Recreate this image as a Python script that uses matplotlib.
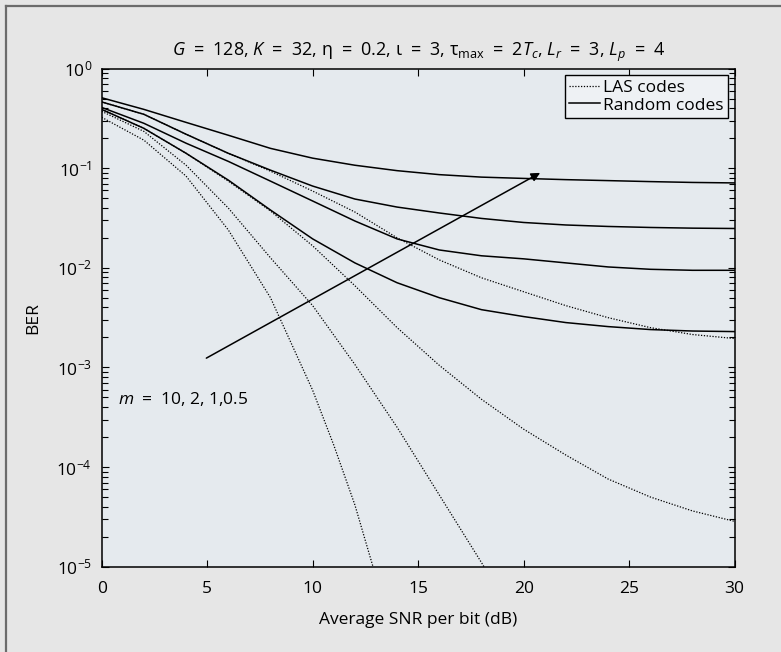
import matplotlib
matplotlib.use("Agg")
import matplotlib.pyplot as plt
from matplotlib.lines import Line2D

# =====================================================
# DATA
# =====================================================

snr = [0, 2, 4, 6, 8, 10, 12, 14, 16, 18, 20, 22, 24, 26, 28, 30]

# random codes, m = 0.5, 1, 2, 10
rand_m05 = [0.509, 0.389, 0.288, 0.214, 0.158, 0.126, 0.107, 0.0944,
            0.0861, 0.0813, 0.0789, 0.0767, 0.0750, 0.0733, 0.0719, 0.0711]
rand_m1 = [0.462, 0.347, 0.219, 0.141, 0.0955, 0.0661, 0.0490, 0.0407,
           0.0355, 0.0313, 0.0285, 0.0269, 0.0260, 0.0254, 0.0250, 0.0248]
rand_m2 = [0.407, 0.282, 0.178, 0.117, 0.0741, 0.0468, 0.0295, 0.0195,
           0.0151, 0.0132, 0.0123, 0.0112, 0.0102, 0.00966, 0.00944, 0.00944]
rand_m10 = [0.389, 0.251, 0.141, 0.0759, 0.0380, 0.0195, 0.0112, 0.00708,
            0.00501, 0.00380, 0.00324, 0.00282, 0.00257, 0.00240, 0.00232, 0.00229]

# LAS codes
las_m05 = [0.462, 0.347, 0.219, 0.141, 0.0933, 0.0589, 0.0363, 0.0200,
           0.0120, 0.00794, 0.00575, 0.00417, 0.00316, 0.00251, 0.00214, 0.00195]
las_m1 = [0.389, 0.251, 0.141, 0.0741, 0.0372, 0.0166, 0.00661, 0.00251,
          0.00105, 4.79e-4, 2.40e-4, 1.32e-4, 7.59e-5, 5.01e-5, 3.63e-5, 2.85e-5]

snr_m2 = [0, 2, 4, 6, 8, 10, 12, 14, 16, 18, 18.4]
las_m2 = [0.372, 0.234, 0.107, 0.0398, 0.0126, 4.17e-3, 1.07e-3, 2.51e-4,
          5.25e-5, 1.10e-5, 8.0e-6]

snr_m10 = [0, 2, 4, 6, 8, 10, 11, 12, 13]
las_m10 = [0.324, 0.191, 0.0832, 0.0240, 5.01e-3, 5.89e-4, 1.66e-4,
           4.17e-5, 7.9e-6]

arrow_tail = (4.96, 1.24e-3)
arrow_head = (20.78, 0.0897)

sp = "\u2002"  # wide space around "=" like the original typesetting
title = (f"$G${sp}={sp}128, $K${sp}={sp}32, η{sp}={sp}0.2, ι{sp}={sp}3, "
         f"τ$_{{\\mathrm{{max}}}}${sp}={sp}2$T_c$, $L_r${sp}={sp}3, $L_p${sp}={sp}4")

# =====================================================
# STYLE
# =====================================================

plt.rcParams["font.family"] = ["Open Sans", "DejaVu Sans"]
plt.rcParams["mathtext.fontset"] = "custom"
plt.rcParams["mathtext.rm"] = "Open Sans"
plt.rcParams["mathtext.it"] = "Open Sans:italic"
plt.rcParams["font.size"] = 12.5

dotted = (0, (1, 1.3))

fig = plt.figure(figsize=(7.81, 6.52), dpi=100, facecolor="#e6e6e6")
ax = fig.add_axes([0.1302, 0.1308, 0.8105, 0.7641])
ax.set_facecolor("#e5eaee")

# outer frame (top and left only)
fig.add_artist(Line2D([0.0075, 0.0075], [0, 0.9915], transform=fig.transFigure,
                      color="#6c6c6c", lw=1.6))
fig.add_artist(Line2D([0.0075, 1.0], [0.9915, 0.9915], transform=fig.transFigure,
                      color="#6c6c6c", lw=1.6))

# =====================================================
# CURVES
# =====================================================

for ber in [rand_m05, rand_m1, rand_m2, rand_m10]:
    ax.plot(snr, ber, color="black", lw=1.1)

ax.plot(snr, las_m05, color="black", lw=0.9, linestyle=dotted)
ax.plot(snr, las_m1, color="black", lw=0.9, linestyle=dotted)
ax.plot(snr_m2, las_m2, color="black", lw=0.9, linestyle=dotted)
ax.plot(snr_m10, las_m10, color="black", lw=0.9, linestyle=dotted)

ax.annotate(
    "",
    xy=arrow_head,
    xytext=arrow_tail,
    arrowprops=dict(arrowstyle="-|>", color="black", lw=1.1,
                    mutation_scale=13, shrinkA=0, shrinkB=0)
)

ax.text(0.78, 4.8e-4, f"$m${sp}={sp}10, 2, 1,0.5", va="center", ha="left")

ax.set_yscale("log")
ax.set_xlim(0, 30)
ax.set_ylim(1e-5, 1)
ax.set_xticks([0, 5, 10, 15, 20, 25, 30])

ax.tick_params(which="both", direction="in", top=True, right=True, width=0.8)
ax.tick_params(axis="x", pad=10)
ax.tick_params(axis="y", pad=7)
ax.tick_params(which="major", length=5)
ax.tick_params(which="minor", length=4)
for s in ax.spines.values():
    s.set_linewidth(1.1)

ax.set_xlabel("Average SNR per bit (dB)", labelpad=11)
ax.set_ylabel("BER", labelpad=11)
ax.set_title(title, fontsize=13, pad=9)

legend_handles = [
    Line2D([], [], color="black", lw=0.9, linestyle=dotted),
    Line2D([], [], color="black", lw=1.1),
]
leg = ax.legend(legend_handles, ["LAS codes", "Random codes"],
                loc="upper right", fancybox=False, framealpha=1,
                facecolor="#eef1f4", edgecolor="black",
                handlelength=1.8, handletextpad=0.15, labelspacing=0.08,
                borderpad=0.25, borderaxespad=0.4, fontsize=12.5)
leg.get_frame().set_linewidth(1.0)

fig.savefig("out.png", dpi=100, facecolor=fig.get_facecolor())
